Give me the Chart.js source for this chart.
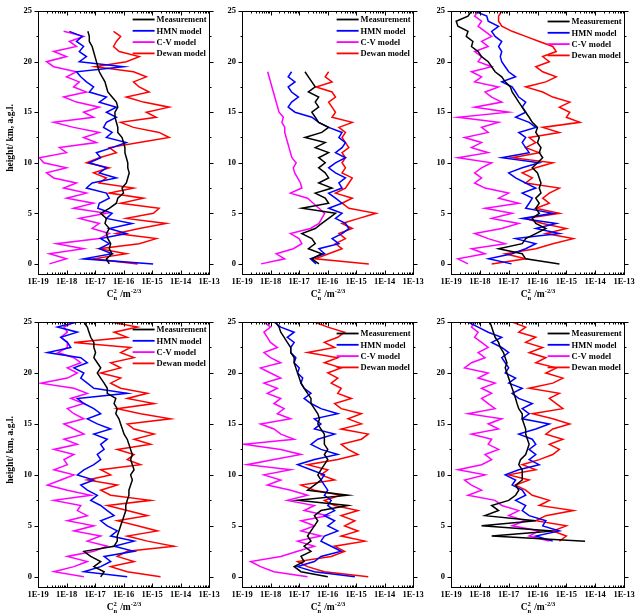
<!DOCTYPE html>
<html>
<head>
<meta charset="utf-8">
<script src="https://cdn.jsdelivr.net/npm/chart.js@4.4.1/dist/chart.umd.min.js"></script>
<style>
  body { margin: 0; background: #fff; }
  #wrap { position: relative; width: 644px; height: 616px; background: #fff; }
  #wrap canvas { position: absolute; left: 0; top: 0; }
</style>
</head>
<body>
<div id="wrap">
  <canvas id="p1" width="644" height="616"></canvas>
  <canvas id="p2" width="644" height="616"></canvas>
  <canvas id="p3" width="644" height="616"></canvas>
  <canvas id="p4" width="644" height="616"></canvas>
  <canvas id="p5" width="644" height="616"></canvas>
  <canvas id="p6" width="644" height="616"></canvas>
</div>
<script>
// profile levels, km a.g.l.
const heights = [0, 0.5, 1, 1.5, 2, 2.5, 3, 3.5, 4, 4.5, 5, 5.5, 6, 6.5, 7, 7.5, 8, 8.5, 9, 9.5,
  10, 10.5, 11, 11.5, 12, 12.5, 13, 13.5, 14, 14.5, 15, 15.5, 16, 16.5, 17, 17.5, 18, 18.5, 19, 19.5,
  20, 20.5, 21, 21.5, 22, 22.5, 23, 23.5, 24, 24.5, 25];

const seriesNames = ["Measurement", "HMN model", "C-V model", "Dewan model"];
const seriesColors = ["#000000", "#0000ff", "#ff00ff", "#ff0000"];

// axis ticks
const xTicks = [1e-19, 1e-18, 1e-17, 1e-16, 1e-15, 1e-14, 1e-13];
const xTickLabels = ["1E-19", "1E-18", "1E-17", "1E-16", "1E-15", "1E-14", "1E-13"];
const yTicks = [0, 5, 10, 15, 20, 25];

// log10(Cn2), one value per level

// panel 1 (top left), 0 - 23 km
const p1Meas = [-16.5, -16.6, -16.4, -16.5, -16.45, -16.55, -16.6, -16.5, -16.65, -16.6,
  -16.8, -16.5, -16.25, -16.2, -16.0, -16.05, -15.9, -15.85, -15.8, -15.85,
  -15.85, -15.9, -15.95, -15.95, -16.0, -16.05, -16.2, -16.2, -16.25, -16.3,
  -16.3, -16.2, -16.25, -16.4, -16.55, -16.6, -16.65, -16.75, -16.85, -16.9,
  -16.95, -17.0, -17.05, -17.1, -17.2, -17.2, -17.25];
const p1Hmn = [-14.96, -17.4, -16.4, -16.85, -16.5, -16.8, -15.9, -16.5, -15.7, -16.6,
  -16.4, -16.9, -16.85, -16.5, -16.6, -17.3, -17.1, -16.25, -16.85, -16.6,
  -17.2, -16.8, -16.95, -16.4, -15.9, -16.6, -16.4, -16.7, -16.6, -16.25,
  -16.6, -16.25, -16.85, -16.6, -17.2, -17.05, -17.3, -17.5, -17.65, -16.0,
  -17.55, -17.3, -17.55, -17.4, -17.65, -17.45, -17.9];
const p1Cv = [-18.6, -18.0, -18.6, -17.4, -18.35, -16.85, -16.5, -17.1, -16.85, -17.55,
  -16.6, -17.75, -17.05, -18.0, -17.3, -18.1, -17.65, -18.45, -18.7, -18.0,
  -18.8, -18.95, -18.0, -18.25, -16.95, -17.4, -16.85, -17.75, -18.45, -17.05,
  -17.4, -16.85, -17.65, -18.1, -17.3, -17.75, -17.55, -18.0, -17.65, -18.45,
  -18.7, -18.0, -18.45, -17.65, -17.9, -17.4, -18.1];
const p1Dewan = [-15.5, -17.05, -15.9, -16.85, -15.45, -14.85, -16.25, -15.45, -14.5, -15.9,
  -14.95, -14.75, -16.1, -15.3, -16.5, -15.65, -16.85, -16.6, -17.05, -16.5,
  -17.3, -16.85, -16.25, -16.5, -15.45, -14.4, -14.75, -15.65, -16.1, -14.85,
  -15.2, -14.4, -15.3, -15.9, -15.1, -15.45, -15.65, -15.2, -15.65, -17.0,
  -15.9, -15.45, -16.15, -16.35, -16.25, -16.1, -16.35];

// panel 2 (top middle), 0 - 19 km
const p2Meas = [-16.3, -16.55, -16.2, -16.67, -16.43, -16.55, -16.9, -16.43, -16.2, -15.96,
  -15.72, -16.9, -15.96, -16.08, -16.43, -15.84, -16.31, -15.96, -16.08, -16.31,
  -16.08, -16.31, -15.96, -16.43, -16.08, -16.79, -16.2, -15.96, -16.31, -16.43,
  -16.55, -16.31, -16.43, -16.31, -16.67, -16.43, -16.55, -16.67, -16.79];
const p2Hmn = [-16.4, -16.6, -16.1, -16.3, -15.6, -15.84, -15.49, -15.25, -15.37, -15.72,
  -15.49, -15.96, -15.49, -15.72, -15.96, -15.49, -15.6, -15.37, -15.72, -15.96,
  -15.72, -15.37, -15.72, -15.49, -15.37, -15.6, -15.49, -15.96, -16.31, -16.55,
  -17.14, -17.38, -17.26, -17.02, -17.26, -17.38, -17.14, -17.38, -17.26];
const p2Cv = [-18.33, -17.5, -17.8, -17.2, -16.9, -17.0, -17.3, -16.6, -16.3, -16.2,
  -16.1, -16.3, -16.5, -16.7, -17.3, -16.9, -16.95, -17.05, -17.15, -17.2,
  -17.1, -17.25, -17.3, -17.35, -17.4, -17.45, -17.5, -17.5, -17.6, -17.55,
  -17.7, -17.75, -17.8, -17.85, -17.9, -17.95, -18.0, -18.05, -18.1];
const p2Dewan = [-14.55, -16.43, -15.96, -15.49, -15.72, -15.37, -15.6, -15.13, -15.49, -14.9,
  -14.3, -15.25, -15.49, -15.13, -15.72, -15.37, -15.25, -15.13, -15.49, -15.37,
  -15.49, -15.37, -15.49, -15.25, -15.37, -15.49, -15.37, -15.6, -15.13, -15.84,
  -15.72, -15.84, -15.96, -15.72, -15.84, -16.4, -15.84, -16.08, -15.96];

// panel 3 (top right), 0 - 25 km
const p3Meas = [-15.24, -16.41, -16.53, -17.35, -16.53, -16.41, -16.06, -15.71, -16.06, -16.18,
  -15.94, -16.06, -15.94, -16.06, -15.88, -15.94, -15.88, -15.94, -16.0, -16.18,
  -16.0, -15.82, -15.94, -15.88, -16.0, -15.94, -16.06, -16.0, -16.18, -16.29,
  -16.41, -16.53, -16.65, -16.76, -16.88, -16.94, -17.12, -17.24, -17.47, -17.59,
  -17.71, -17.94, -18.06, -18.29, -18.24, -18.47, -18.41, -18.76, -18.82, -18.41,
  -18.29];
const p3Hmn = [-16.9, -17.7, -16.88, -16.41, -16.06, -16.76, -15.24, -16.06, -15.35, -16.53,
  -15.47, -16.41, -16.29, -16.18, -16.53, -16.06, -16.41, -16.76, -17.0, -16.53,
  -15.94, -17.24, -16.29, -16.41, -16.53, -16.41, -16.65, -16.06, -16.29, -16.76,
  -16.41, -16.53, -16.41, -16.65, -16.76, -16.88, -17.24, -16.76, -17.0, -17.12,
  -17.24, -17.29, -17.24, -17.35, -17.24, -17.47, -17.59, -17.35, -17.71, -17.76,
  -18.18];
const p3Cv = [-18.41, -18.76, -17.82, -18.29, -17.12, -17.71, -18.18, -17.24, -16.65, -17.59,
  -16.88, -17.82, -16.65, -17.35, -17.0, -17.82, -18.18, -17.94, -18.18, -17.94,
  -17.59, -18.76, -17.71, -18.29, -17.94, -18.53, -17.71, -17.94, -17.35, -18.76,
  -17.0, -18.18, -17.24, -17.59, -17.82, -17.35, -18.18, -17.94, -18.29, -17.59,
  -18.06, -17.94, -18.18, -17.71, -17.94, -17.59, -17.82, -18.06, -17.94, -18.18,
  -18.06];
const p3Dewan = [-17.59, -16.41, -17.12, -16.06, -15.47, -14.76, -15.71, -15.0, -15.82, -16.41,
  -15.24, -16.06, -15.59, -15.82, -15.59, -15.24, -16.41, -16.18, -16.53, -16.06,
  -15.47, -16.88, -15.94, -16.41, -16.06, -16.29, -15.24, -15.82, -14.53, -15.0,
  -14.88, -15.24, -14.88, -15.47, -15.82, -16.41, -15.71, -15.35, -15.82, -16.06,
  -15.59, -15.82, -15.35, -15.47, -15.94, -16.41, -16.88, -17.24, -17.35, -17.35,
  -17.24];

// panel 4 (bottom left), 0 - 25 km
const p4Meas = [-16.8, -16.68, -17.04, -16.8, -17.15, -17.39, -16.33, -16.22, -16.22, -16.16,
  -16.1, -16.04, -15.98, -15.92, -15.92, -15.87, -15.81, -15.81, -15.75, -15.69,
  -15.75, -15.63, -15.69, -15.75, -15.69, -15.75, -15.81, -15.87, -15.98, -16.04,
  -16.1, -16.16, -16.27, -16.22, -16.33, -16.27, -16.57, -16.57, -16.68, -16.8,
  -16.92, -16.8, -16.92, -17.04, -16.98, -17.04, -17.04, -17.15, -17.21, -17.27,
  -17.39];
const p4Hmn = [-15.87, -17.39, -16.8, -16.45, -16.68, -15.63, -16.33, -15.63, -16.45, -16.22,
  -16.57, -16.8, -16.33, -16.57, -16.8, -17.15, -16.92, -17.27, -17.5, -17.04,
  -17.62, -17.39, -17.04, -16.8, -16.92, -16.68, -16.8, -16.57, -17.04, -16.45,
  -16.92, -17.27, -16.8, -17.04, -17.39, -17.62, -15.87, -17.04, -17.27, -17.5,
  -17.39, -17.74, -17.27, -17.5, -18.67, -17.85, -17.97, -18.2, -17.62, -18.32,
  -17.62];
const p4Cv = [-17.39, -18.44, -17.74, -17.27, -17.97, -17.04, -16.57, -17.27, -16.8, -17.74,
  -17.04, -17.97, -17.27, -17.62, -17.5, -18.44, -17.15, -17.97, -18.67, -18.2,
  -17.74, -18.44, -17.97, -18.09, -17.74, -18.44, -17.62, -18.09, -17.39, -17.74,
  -18.09, -17.39, -17.74, -17.97, -17.39, -17.85, -17.27, -17.74, -18.91, -17.97,
  -17.62, -17.97, -17.5, -17.74, -18.3, -17.97, -17.97, -18.2, -17.97, -18.09,
  -17.74];
const p4Dewan = [-14.7, -15.87, -16.45, -15.63, -16.22, -15.87, -14.23, -15.16, -15.87, -14.81,
  -15.51, -16.22, -15.16, -15.87, -16.57, -15.05, -16.45, -16.8, -16.22, -17.27,
  -16.45, -16.8, -15.4, -15.87, -15.63, -16.22, -15.05, -15.63, -14.93, -15.63,
  -15.87, -14.35, -15.4, -16.22, -14.93, -15.87, -15.16, -16.1, -16.45, -16.1,
  -16.8, -16.1, -16.45, -15.63, -16.1, -15.75, -17.74, -15.87, -16.33, -15.51,
  -16.45];

// panel 5 (bottom middle), 0 - 25 km
const p5Meas = [-15.99, -16.93, -17.17, -16.82, -16.93, -16.58, -16.82, -16.58, -16.7, -16.58,
  -16.46, -16.34, -16.46, -16.23, -15.28, -17.05, -15.28, -16.7, -16.46, -16.23,
  -16.34, -16.23, -16.11, -15.99, -16.11, -15.99, -16.11, -16.11, -16.11, -16.23,
  -16.34, -16.28, -16.34, -16.46, -16.58, -16.58, -16.7, -16.82, -16.93, -16.99,
  -17.05, -17.11, -17.17, -17.17, -17.29, -17.29, -17.41, -17.52, -17.64, -17.7,
  -17.82];
const p5Hmn = [-15.04, -16.46, -17.05, -16.46, -16.23, -15.52, -15.87, -16.23, -16.11, -15.64,
  -15.99, -15.75, -16.11, -15.75, -15.99, -15.87, -16.11, -15.99, -16.11, -16.23,
  -16.11, -16.58, -17.05, -16.46, -15.64, -16.23, -16.58, -16.34, -15.75, -16.46,
  -16.23, -16.46, -15.64, -16.23, -16.58, -16.82, -16.58, -16.82, -16.93, -16.87,
  -17.05, -16.99, -17.17, -17.11, -17.29, -17.29, -17.17, -17.41, -17.17, -17.64,
  -17.88];
const p5Cv = [-16.7, -17.88, -18.35, -18.7, -17.64, -17.05, -16.46, -17.05, -16.23, -16.93,
  -16.46, -16.93, -15.99, -16.82, -16.46, -17.41, -16.7, -17.29, -18.11, -17.64,
  -18.23, -17.29, -18.82, -17.88, -16.93, -17.64, -18.94, -17.17, -17.64, -17.88,
  -18.35, -17.29, -17.76, -17.52, -17.88, -17.64, -18.11, -17.76, -18.23, -17.64,
  -18.0, -18.35, -17.64, -18.0, -18.23, -17.76, -18.0, -18.11, -18.23, -18.0,
  -18.23];
const p5Dewan = [-14.57, -16.11, -16.7, -17.05, -15.87, -15.4, -15.75, -14.69, -15.52, -14.93,
  -15.4, -15.04, -15.52, -14.93, -15.75, -16.11, -15.52, -16.46, -16.93, -15.75,
  -16.23, -15.99, -16.7, -15.64, -14.93, -15.28, -15.52, -14.81, -14.57, -15.52,
  -14.81, -15.28, -14.81, -15.52, -15.75, -15.16, -15.64, -15.52, -15.87, -15.64,
  -15.99, -15.52, -16.11, -15.64, -16.7, -15.75, -16.11, -15.64, -15.4, -15.99,
  -16.46];

// panel 6 (bottom right), 3.5 - 25 km
const p6Meas = [-14.35, -17.59, -15.47, -17.94, -16.06, -17.82, -17.35, -17.59, -17.0, -16.76,
  -16.65, -16.76, -16.53, -16.53, -16.53, -16.65, -16.59, -16.41, -16.35, -16.29,
  -16.35, -16.41, -16.41, -16.47, -16.53, -16.53, -16.65, -16.71, -16.76, -16.82,
  -16.88, -16.94, -17.0, -17.06, -17.12, -17.06, -17.12, -17.18, -17.29, -17.35,
  -17.47, -17.53, -17.59, -17.65];
const p6Hmn = [-15.47, -16.06, -15.24, -15.82, -15.71, -16.29, -16.53, -16.41, -16.76, -16.41,
  -16.53, -16.88, -16.76, -17.12, -16.65, -15.94, -16.29, -16.06, -16.29, -16.06,
  -16.18, -16.65, -16.06, -15.59, -16.53, -16.29, -16.53, -16.18, -16.65, -16.88,
  -16.53, -17.0, -16.76, -17.12, -17.0, -17.12, -17.24, -17.0, -17.24, -17.59,
  -17.24, -17.71, -18.06, -18.41];
const p6Cv = [-15.59, -16.29, -15.94, -16.88, -16.41, -17.0, -16.65, -17.24, -17.47, -18.41,
  -17.94, -18.29, -18.53, -17.82, -18.76, -17.94, -17.59, -17.82, -17.35, -17.71,
  -17.59, -18.29, -17.35, -17.71, -17.24, -18.41, -17.47, -17.71, -17.94, -17.59,
  -17.94, -17.47, -18.06, -17.71, -18.53, -18.29, -17.82, -18.06, -17.71, -17.94,
  -18.18, -18.06, -18.29, -18.18];
const p6Dewan = [-15.24, -15.0, -15.47, -15.0, -16.06, -15.71, -14.76, -15.94, -15.59, -16.18,
  -16.41, -16.76, -16.29, -17.0, -16.06, -16.53, -15.94, -15.47, -15.24, -15.59,
  -15.12, -15.71, -15.47, -14.88, -15.47, -16.18, -15.12, -15.35, -15.59, -15.24,
  -16.29, -15.47, -15.12, -15.71, -15.35, -16.06, -15.71, -16.29, -15.82, -16.41,
  -16.06, -16.65, -16.41, -16.88];

// frame of each plot on the page
const cols = [[38, 209], [242, 413], [451, 624]];
const rows = [[10, 274], [322, 587]];

const panels = [
  { id: "p1", col: 0, row: 0, legendTop: 8, h: heights, series: [p1Meas, p1Hmn, p1Cv, p1Dewan] },
  { id: "p2", col: 1, row: 0, legendTop: 8, h: heights, series: [p2Meas, p2Hmn, p2Cv, p2Dewan] },
  { id: "p3", col: 2, row: 0, legendTop: 10, h: heights, series: [p3Meas, p3Hmn, p3Cv, p3Dewan] },
  { id: "p4", col: 0, row: 1, legendTop: 7, h: heights, series: [p4Meas, p4Hmn, p4Cv, p4Dewan] },
  { id: "p5", col: 1, row: 1, legendTop: 11, h: heights, series: [p5Meas, p5Hmn, p5Cv, p5Dewan] },
  { id: "p6", col: 2, row: 1, legendTop: 11, h: heights.slice(7), series: [p6Meas, p6Hmn, p6Cv, p6Dewan] },
];

const FONT = '"Liberation Serif", "Times New Roman", serif';
const Y_AXIS_W = 24;
const X_AXIS_H = 22;

const toPoints = (exps, hs) => exps.map((e, i) => ({ x: Math.pow(10, e), y: hs[i] }));

// frame, origin style ticks, legend and axis titles
const decor = {
  id: "decor",
  afterDraw(chart, args, opts) {
    const { ctx, chartArea: a, scales } = chart;
    const sx = scales.x;
    const sy = scales.y;
    const seg = (x1, y1, x2, y2) => {
      ctx.beginPath();
      ctx.moveTo(x1, y1);
      ctx.lineTo(x2, y2);
      ctx.stroke();
    };
    ctx.save();
    ctx.strokeStyle = "#000";
    ctx.lineWidth = 1;
    const L = Math.round(a.left) + 0.5;
    const R = Math.round(a.right) + 0.5;
    const T = Math.round(a.top) + 0.5;
    const B = Math.round(a.bottom) + 0.5;
    ctx.strokeRect(L, T, R - L, B - T);

    // x ticks, inward, top and bottom
    xTicks.forEach((dec, i) => {
      for (let k = 1; k <= 9; k++) {
        if (i === xTicks.length - 1 && k > 1) break;
        const px = Math.round(sx.getPixelForValue(k * dec)) + 0.5;
        const len = k === 1 ? 4 : 2;
        seg(px, B, px, B - len);
        seg(px, T, px, T + len);
      }
    });
    // y ticks, outward, left and right
    for (let v = 0; v <= 25; v += 2.5) {
      const py = Math.round(sy.getPixelForValue(v)) + 0.5;
      const len = v % 5 === 0 ? 4 : 2;
      seg(L, py, L - len, py);
      seg(R, py, R + len, py);
    }

    // legend
    ctx.font = "bold 8.5px " + FONT;
    ctx.textBaseline = "middle";
    ctx.textAlign = "left";
    const textX = R - 3 - ctx.measureText(seriesNames[0]).width;
    seriesNames.forEach((name, i) => {
      const ly = T + opts.legendTop + i * 11.3;
      ctx.strokeStyle = seriesColors[i];
      ctx.lineWidth = 1.8;
      seg(textX - 24, ly, textX - 2, ly);
      ctx.fillStyle = "#000";
      ctx.fillText(name, textX, ly + 0.5);
    });

    // x title: C_n^2 /m^-2/3
    ctx.fillStyle = "#000";
    ctx.textBaseline = "alphabetic";
    const big = "bold 9.5px " + FONT;
    const small = "bold 6.5px " + FONT;
    ctx.font = big;
    const wC = ctx.measureText("C").width;
    const wM = ctx.measureText(" /m").width;
    ctx.font = small;
    const w2 = ctx.measureText("2").width;
    const wE = ctx.measureText("-2/3").width;
    const total = wC + w2 + 1 + wM + wE;
    let tx = (L + R) / 2 - total / 2;
    const base = B + opts.titleGap;
    ctx.font = big;
    ctx.fillText("C", tx, base);
    tx += wC;
    ctx.font = small;
    ctx.fillText("2", tx, base - 4);
    ctx.fillText("n", tx, base + 3);
    tx += w2 + 1;
    ctx.font = big;
    ctx.fillText(" /m", tx, base);
    tx += wM;
    ctx.font = small;
    ctx.fillText("-2/3", tx, base - 4);

    // y title
    if (opts.yTitle) {
      ctx.font = "bold 9.5px " + FONT;
      ctx.textAlign = "center";
      ctx.textBaseline = "middle";
      ctx.translate(11, (T + B) / 2 - 5);
      ctx.rotate(-Math.PI / 2);
      ctx.fillText("height/ km, a.g.l.", 0, 0);
    }
    ctx.restore();
  },
};

panels.forEach((p) => {
  const [fl, fr] = cols[p.col];
  const [ft, fb] = rows[p.row];
  const ctx = document.getElementById(p.id);

  // order 0 is drawn last, so Measurement sits on top
  const datasets = p.series.map((vals, i) => ({
    label: seriesNames[i],
    data: toPoints(vals, p.h),
    borderColor: seriesColors[i],
    backgroundColor: seriesColors[i],
    borderWidth: 1.5,
    pointRadius: 0,
    showLine: true,
    tension: 0,
    order: i,
  }));

  new Chart(ctx, {
    type: "scatter",
    data: { datasets },
    options: {
      responsive: false,
      animation: false,
      devicePixelRatio: 1,
      events: [],
      layout: {
        padding: { left: fl - Y_AXIS_W, right: 644 - fr, top: ft, bottom: 616 - fb - X_AXIS_H },
      },
      plugins: {
        legend: { display: false },
        tooltip: { enabled: false },
        decor: { legendTop: p.legendTop, yTitle: p.col === 0, titleGap: 22 },
      },
      scales: {
        x: {
          type: "logarithmic",
          min: 1e-19,
          max: 1e-13,
          grid: { display: false, drawTicks: false },
          border: { display: false },
          afterFit: (s) => { s.height = X_AXIS_H; },
          afterBuildTicks: (s) => { s.ticks = xTicks.map((v) => ({ value: v })); },
          ticks: {
            autoSkip: false,
            maxRotation: 0,
            padding: 3,
            color: "#000",
            font: { family: FONT, size: 8.5, weight: "bold" },
            callback: (v, i) => xTickLabels[i],
          },
        },
        y: {
          type: "linear",
          min: -1,
          max: 25,
          grid: { display: false, drawTicks: false },
          border: { display: false },
          afterFit: (s) => { s.width = Y_AXIS_W; },
          afterBuildTicks: (s) => { s.ticks = yTicks.map((v) => ({ value: v })); },
          ticks: {
            padding: 6,
            color: "#000",
            font: { family: FONT, size: 8.5, weight: "bold" },
            callback: (v) => String(v),
          },
        },
      },
    },
    plugins: [decor],
  });
});
</script>
</body>
</html>
